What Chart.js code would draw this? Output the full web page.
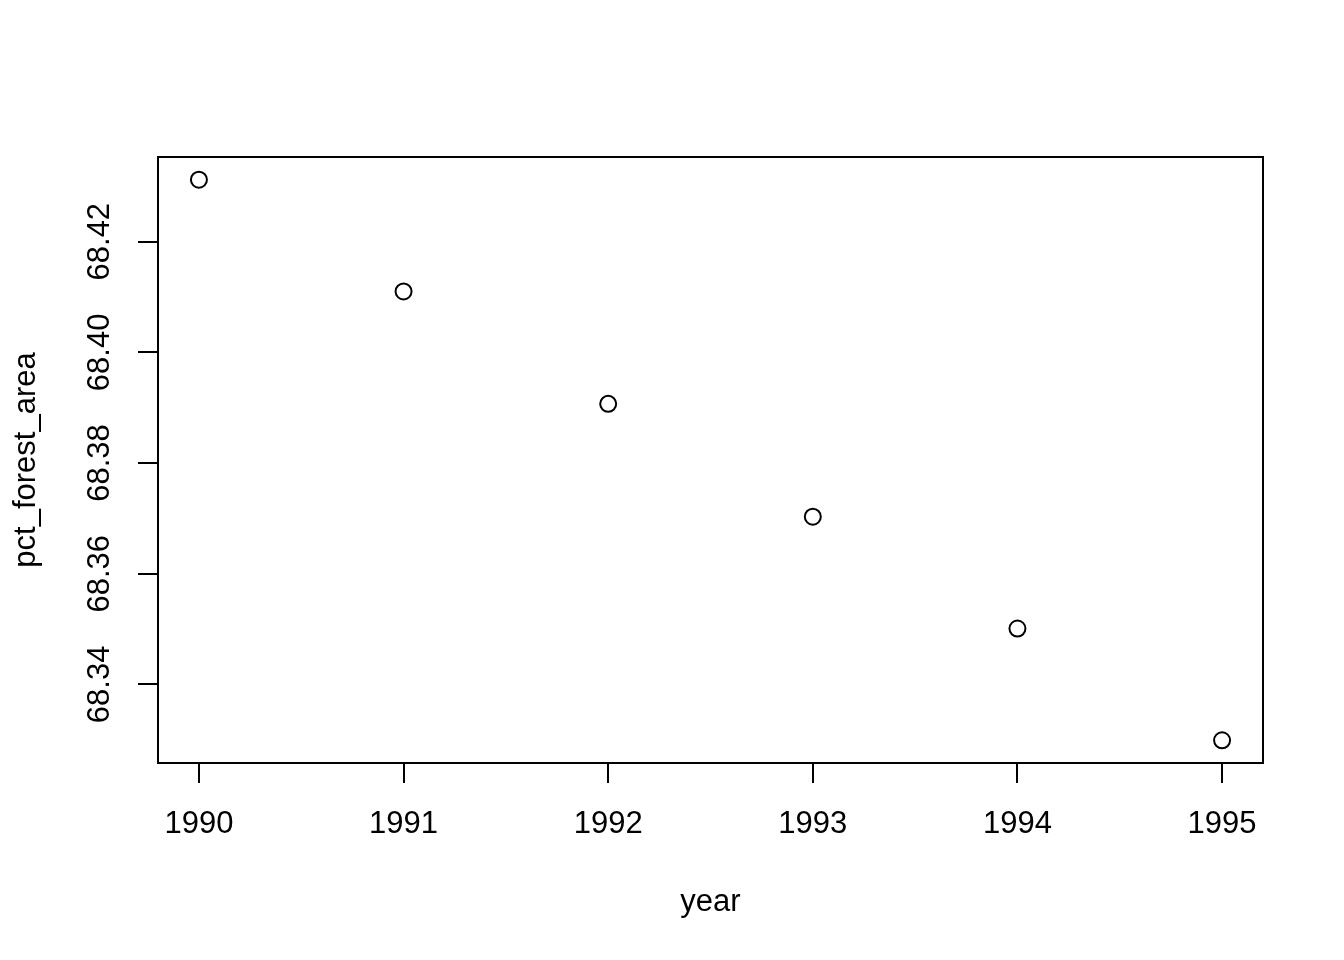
<!DOCTYPE html>
<html>
<head>
<meta charset="utf-8">
<script src="https://cdn.jsdelivr.net/npm/chart.js@4"></script>
<style>
  body { margin: 0; background: #fff; }
  #wrap { width: 1344px; height: 960px; }
</style>
</head>
<body>
<div id="wrap"><canvas id="graph" width="1344" height="960"></canvas></div>
<script>
const years = [1990, 1991, 1992, 1993, 1994, 1995];
const pctForestArea = [68.4312, 68.4110, 68.3907, 68.3703, 68.3501, 68.3299];
const xTicks = [1990, 1991, 1992, 1993, 1994, 1995];
const yTicks = [68.34, 68.36, 68.38, 68.40, 68.42];

const FONT = 'Liberation Sans, Arial, Helvetica, sans-serif';
const ctx = document.getElementById('graph').getContext('2d');

// R-style frame box + rotated y tick labels
const rAxes = {
  id: 'rAxes',
  afterDraw(chart) {
    const c = chart.ctx;
    const a = chart.chartArea;
    c.save();
    c.strokeStyle = '#000';
    c.lineWidth = 2;
    c.strokeRect(a.left, a.top, a.right - a.left, a.bottom - a.top);
    const ys = chart.scales.y;
    c.fillStyle = '#000';
    c.font = '31px ' + FONT;
    c.textAlign = 'center';
    c.textBaseline = 'alphabetic';
    yTicks.forEach(v => {
      const py = ys.getPixelForValue(v);
      c.save();
      c.translate(109, py);
      c.rotate(-Math.PI / 2);
      c.fillText(v.toFixed(2), 0, 0);
      c.restore();
    });
    c.restore();
  }
};

const data = {
  datasets: [{
    label: 'pct_forest_area',
    data: years.map((y, i) => ({ x: y, y: pctForestArea[i] })),
    pointStyle: 'circle',
    pointRadius: 8,
    pointBorderWidth: 2,
    pointBorderColor: '#000',
    pointBackgroundColor: 'rgba(0,0,0,0)',
    showLine: false
  }]
};

const config = {
  type: 'scatter',
  data: data,
  options: {
    responsive: false,
    animation: false,
    devicePixelRatio: 1,
    layout: { padding: { top: 157, right: 81, left: 0, bottom: 0 } },
    plugins: { legend: { display: false }, tooltip: { enabled: false } },
    scales: {
      x: {
        type: 'linear',
        min: 1989.8,
        max: 1995.2,
        afterBuildTicks: s => { s.ticks = xTicks.map(v => ({ value: v })); },
        afterFit: s => { s.height = 197; },
        grid: { drawOnChartArea: false, drawTicks: true, tickLength: 20, color: '#000', lineWidth: 2 },
        border: { display: true, color: '#000', width: 2 },
        ticks: { color: '#000', font: { family: FONT, size: 31 }, padding: 23, maxRotation: 0, callback: v => String(v) },
        title: { display: true, text: 'year', color: '#000', font: { family: FONT, size: 31 }, padding: { top: 0, bottom: 39 } }
      },
      y: {
        type: 'linear',
        min: 68.3258,
        max: 68.4353,
        afterBuildTicks: s => { s.ticks = yTicks.map(v => ({ value: v })); },
        afterFit: s => { s.width = 158; },
        grid: { drawOnChartArea: false, drawTicks: true, tickLength: 20, color: '#000', lineWidth: 2 },
        border: { display: true, color: '#000', width: 2 },
        ticks: { display: false },
        title: { display: true, text: 'pct_forest_area', color: '#000', font: { family: FONT, size: 31 }, padding: { top: 8, bottom: 0 } }
      }
    }
  },
  plugins: [rAxes]
};

new Chart(ctx, config);
</script>
</body>
</html>
